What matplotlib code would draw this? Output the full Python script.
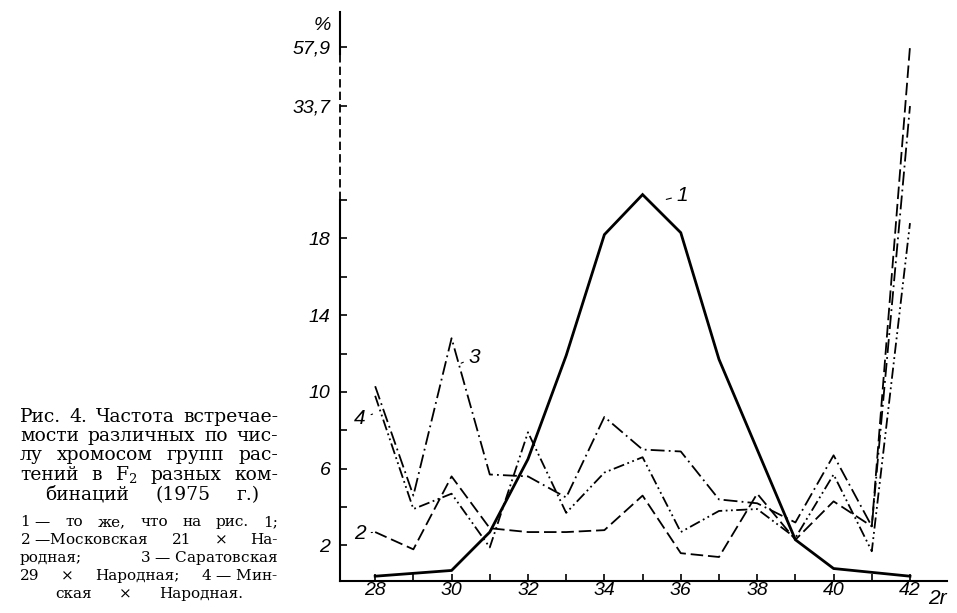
import matplotlib
matplotlib.use("Agg")
import matplotlib.pyplot as plt
import numpy as np

# число хромосом (2n) и частоты, %
chrom = [28, 29, 30, 31, 32, 33, 34, 35, 36, 37, 38, 39, 40, 41, 42]
line1 = [0.4, 0.55, 0.7, 2.7, 6.5, 11.9, 18.2, 20.8, 18.3, 11.7, 7.0, 2.3, 0.8, 0.6, 0.4]
line2 = [2.7, 1.8, 5.6, 2.9, 2.7, 2.7, 2.8, 4.6, 1.6, 1.4, 4.7, 2.3, 4.3, 3.0, 57.9]
line3 = [10.3, 4.6, 12.8, 5.7, 5.6, 4.5, 8.7, 7.0, 6.9, 4.4, 4.2, 3.2, 6.7, 3.0, 33.7]
line4 = [9.8, 3.9, 4.7, 1.9, 7.9, 3.7, 5.8, 6.6, 2.7, 3.8, 3.9, 2.4, 5.7, 1.7, 18.8]

yticks_major = [2, 6, 10, 14, 18, 33.7, 57.9]
ytick_labels = ["2", "6", "10", "14", "18", "33,7", "57,9"]
yticks_minor = [4, 8, 12, 16, 20]
xticks_labeled = [28, 30, 32, 34, 36, 38, 40, 42]

caption = [["Рис.", "4.", "Частота", "встречае-"],
           ["мости", "различных", "по", "чис-"],
           ["лу", "хромосом", "групп", "рас-"],
           ["тений", "в", "F$_2$", "разных", "ком-"],
           ["бинаций", "(1975", "г.)"]]
legend_lines = [["$\\mathit{1}$ —", "то", "же,", "что", "на", "рис.", "1;"],
                ["$\\mathit{2}$ —Московская", "21", "×", "На-"],
                ["родная;", "$\\mathit{3}$ — Саратовская"],
                ["29", "×", "Народная;", "$\\mathit{4}$ — Мин-"],
                ["ская", "×", "Народная."]]

# broken y axis: compress values above 20
vals = [0, 20, 33.7, 57.9, 72]
us = [0, 20, 24.9, 28.0, 29.8]

def fwd(v):
    return np.interp(v, vals, us)

def inv(u):
    return np.interp(u, us, vals)

plt.rcParams["lines.scale_dashes"] = False
plt.rcParams["mathtext.fontset"] = "dejavuserif"
tickfont = ["Liberation Sans", "DejaVu Sans"]
serif = ["DejaVu Serif"]
W, H = 957, 613

fig = plt.figure(figsize=(9.57, 6.13), dpi=100)
ax = fig.add_axes([0.3553, 0.0522, 0.6343, 0.9282])
ax.set_yscale("function", functions=(fwd, inv))

ax.plot(chrom, line1, color="black", lw=2.0, solid_joinstyle="miter")
ax.plot(chrom, line2, color="black", lw=1.3, linestyle=(0, (9, 3.5)))
ax.plot(chrom, line3, color="black", lw=1.3, linestyle=(0, (10, 3, 1.3, 3)))
ax.plot(chrom, line4, color="black", lw=1.3, linestyle=(0, (8, 2.5, 1.3, 2.5, 1.3, 2.5)))

ax.set_xlim(27.08, 42.97)
ax.set_ylim(0.15, 72)

for s in ["top", "right", "left"]:
    ax.spines[s].set_visible(False)
ax.spines["bottom"].set_linewidth(1.5)

# y axis drawn in three pieces (solid / dashed / solid)
x0 = 27.08
ax.plot([x0, x0], [0.15, 20], color="black", lw=1.5, clip_on=False)
ax.plot([x0, x0], [20, 55], color="black", lw=1.3, linestyle=(0, (6, 3)), clip_on=False)
ax.plot([x0, x0], [55, 72], color="black", lw=1.5, clip_on=False)

ax.set_xticks(chrom, minor=True)
ax.set_xticks(xticks_labeled)
ax.set_xticklabels([str(v) for v in xticks_labeled], fontstyle="italic",
                   fontsize=14, family=tickfont)
ax.tick_params(axis="x", which="both", direction="in", length=5, width=1.2, pad=1)

ax.set_yticks(yticks_major)
ax.set_yticklabels(ytick_labels, fontstyle="italic", fontsize=14, family=tickfont)
ax.set_yticks(yticks_minor, minor=True)
ax.yaxis.set_minor_formatter(matplotlib.ticker.NullFormatter())
ax.tick_params(axis="y", which="both", direction="in", length=5, width=1.2, pad=7)

# labels on curves
lab = dict(fontstyle="italic", fontsize=15, family=tickfont, ha="center", va="center")
ax.annotate("1", xy=(35.55, 20.0), xytext=(36.05, 20.7), arrowprops=dict(arrowstyle="-", lw=0.8), **lab)
ax.annotate("3", xy=(30.25, 11.5), xytext=(30.6, 11.8), arrowprops=dict(arrowstyle="-", lw=0.8), **lab)
ax.annotate("4", xy=(28.0, 8.9), xytext=(27.6, 8.6), arrowprops=dict(arrowstyle="-", lw=0.8), **lab)
ax.annotate("2", xy=(28.0, 2.7), xytext=(27.6, 2.6), arrowprops=dict(arrowstyle="-", lw=0.8), **lab)

fig.text(322 / W, 1 - 25 / H, "%", fontsize=14, family=tickfont, fontstyle="italic",
         ha="center", va="center")
fig.text(937 / W, 1 - 598 / H, "2r", fontsize=15, family=tickfont, fontstyle="italic",
         ha="center", va="center")

renderer = fig.canvas.get_renderer()

def justify(words, ybase, x1, x2, size):
    # spread the words of one caption line between x1 and x2 (pixels)
    texts = [fig.text(0, 1 - ybase / H, w, fontsize=size, family=serif,
                      ha="left", va="baseline") for w in words]
    widths = [t.get_window_extent(renderer).width for t in texts]
    gap = (x2 - x1 - sum(widths)) / max(len(words) - 1, 1)
    x = x1
    for t, w in zip(texts, widths):
        t.set_x(x / W)
        x += w + gap

cap_base = [422, 441, 460, 480, 500]
for i, words in enumerate(caption):
    if i < 4:
        justify(words, cap_base[i], 20, 278, 13.5)
    else:
        justify(words, cap_base[i], 45, 260, 13.5)

leg_base = [526, 544, 562, 580, 598]
for i, words in enumerate(legend_lines):
    if i < 4:
        justify(words, leg_base[i], 20, 278, 11)
    else:
        justify(words, leg_base[i], 55, 243, 11)

fig.savefig("out.png", dpi=100)
